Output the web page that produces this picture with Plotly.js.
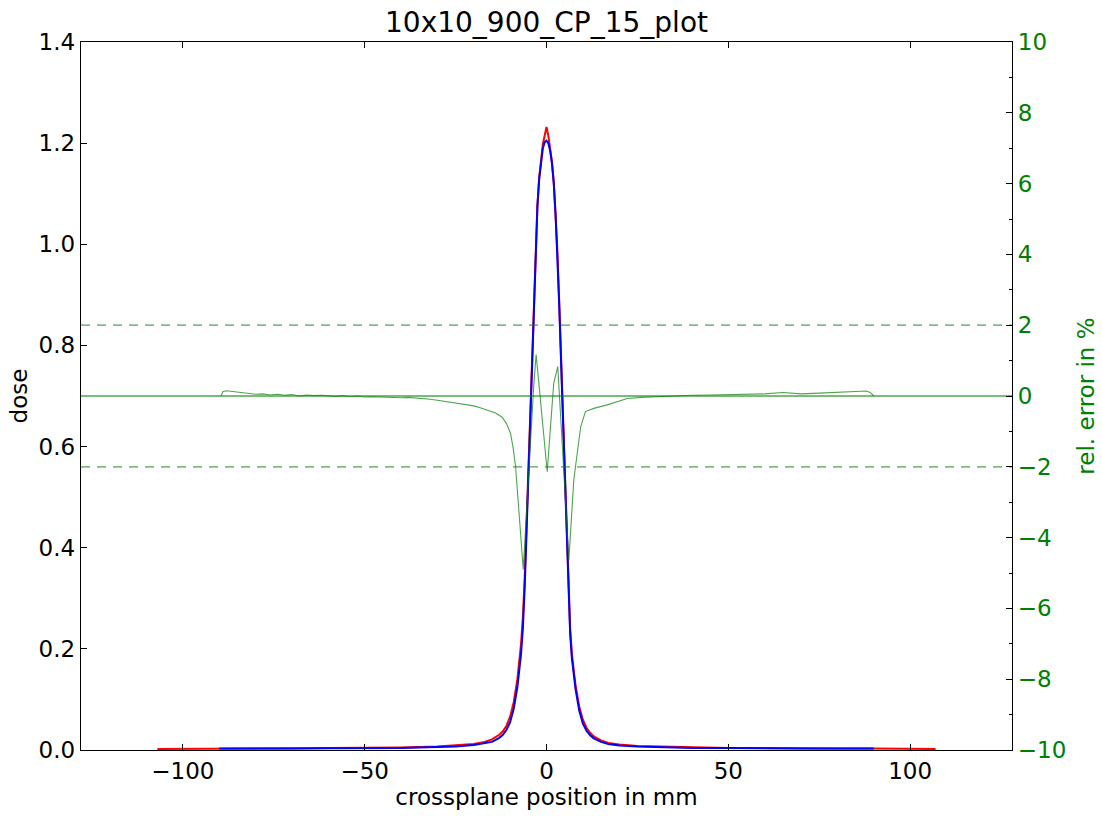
<!DOCTYPE html>
<html>
<head>
<meta charset="utf-8">
<script src="https://cdn.plot.ly/plotly-3.0.1.min.js"></script>
<style>html,body{margin:0;padding:0;background:#fff;}#chart{width:1102px;height:816px;}</style>
</head>
<body>
<div id="chart"></div>
<script>
// Dose profile (red)
const redX = [-107,-100,-90,-80,-70,-60,-50,-40,-30,-25,-20,-17,-15,-13,-12,-11,-10,-9,-8,-7,-6.5,-6,-5.5,-5,-4.5,-4,-3.5,-3,-2.5,-2,-1.5,-1,-0.5,0,0.5,1,1.5,2,2.5,3,3.5,4,4.5,5,5.5,6,6.5,7,8,9,10,11,12,13,15,17,20,25,30,40,50,60,70,80,90,100,107];
const redY = [0.002,0.002,0.003,0.003,0.003,0.004,0.004,0.005,0.007,0.009,0.012,0.016,0.021,0.030,0.037,0.048,0.066,0.095,0.14,0.21,0.262,0.34,0.445,0.562,0.68,0.795,0.902,1.0,1.077,1.133,1.17,1.198,1.215,1.232,1.215,1.19,1.163,1.123,1.063,0.985,0.885,0.775,0.66,0.542,0.428,0.32,0.24,0.188,0.127,0.086,0.06,0.044,0.034,0.027,0.019,0.014,0.011,0.008,0.007,0.005,0.004,0.004,0.003,0.003,0.003,0.002,0.002];

// Dose profile (blue)
const blueX = [-90,-80,-70,-60,-50,-40,-30,-25,-20,-17,-15,-13,-12,-11,-10,-9,-8,-7,-6.5,-6,-5.5,-5,-4.5,-4,-3.5,-3,-2.5,-2,-1.5,-1,-0.5,0,0.5,1,1.5,2,2.5,3,3.5,4,4.5,5,5.5,6,6.5,7,8,9,10,11,12,13,15,17,20,25,30,40,50,60,70,80,90];
const blueY = [0.003,0.003,0.003,0.003,0.004,0.004,0.006,0.007,0.010,0.013,0.016,0.024,0.030,0.040,0.055,0.082,0.125,0.19,0.24,0.32,0.43,0.55,0.67,0.79,0.90,1.0,1.075,1.13,1.165,1.19,1.202,1.205,1.2,1.185,1.16,1.12,1.06,0.98,0.88,0.77,0.655,0.535,0.42,0.31,0.23,0.18,0.12,0.078,0.052,0.038,0.029,0.023,0.016,0.012,0.009,0.007,0.006,0.004,0.004,0.003,0.003,0.003,0.003];

// Relative error in % (green)
const errX = [-89.5,-89,-88,-86,-84,-82,-80,-78,-76,-74,-72,-70,-68,-66,-64,-62,-60,-58,-56,-54,-52,-50,-48,-46,-44,-42,-40,-38,-36,-34,-32,-30,-28,-26,-24,-22,-20,-18,-16,-14,-12.2,-11,-9.9,-9.2,-8.5,-7.6,-6.9,-6.4,-5.5,-4.5,-3.5,-2.85,-1.5,-0.5,0.2,1,2,3.1,4,5,6.15,7.5,8.5,9.4,10.7,13,16.7,19.5,22.2,26,30,35,40,45,50,55,60,65,70,75,80,85,88,89,90];
const errY = [0,0.12,0.15,0.13,0.1,0.08,0.05,0.06,0.03,0.05,0.02,0.04,0.0,0.03,0.01,0.02,0.0,-0.01,0.01,-0.02,0.0,-0.03,-0.02,-0.03,-0.04,-0.03,-0.05,-0.04,-0.05,-0.07,-0.09,-0.12,-0.15,-0.18,-0.2,-0.24,-0.28,-0.34,-0.4,-0.48,-0.6,-0.78,-1.05,-1.45,-2.0,-3.1,-4.2,-4.9,-3.2,-1.4,0.3,1.17,-0.3,-1.4,-2.14,-1.0,0.37,0.83,-0.8,-2.4,-4.63,-2.37,-1.5,-0.87,-0.44,-0.35,-0.25,-0.16,-0.07,-0.04,-0.02,0.0,0.02,0.03,0.04,0.05,0.06,0.1,0.06,0.08,0.1,0.12,0.14,0.1,0];

// Reference lines (rel. error %)
const refLevels = [2, 0, -2];
const xLimits = [-128, 128];

const xTicks = [-100, -50, 0, 50, 100];
const yTicks = [0, 0.2, 0.4, 0.6, 0.8, 1.0, 1.2, 1.4];
const y2Ticks = [-10, -8, -6, -4, -2, 0, 2, 4, 6, 8, 10];

const green = '#008000';
const font = 'DejaVu Sans, sans-serif';
const fs = 23;

const traces = [];
refLevels.forEach(v => {
  traces.push({
    x: xLimits, y: [v, v], yaxis: 'y2', mode: 'lines', hoverinfo: 'skip',
    line: {color: 'rgba(0,128,0,0.7)', width: 1.3, dash: v === 0 ? 'solid' : '9px,7px'}
  });
});
traces.push({x: errX, y: errY, yaxis: 'y2', mode: 'lines',
  line: {color: 'rgba(0,128,0,0.7)', width: 1.1}});
traces.push({x: redX, y: redY, mode: 'lines', line: {color: '#ff0000', width: 2}});
traces.push({x: blueX, y: blueY, mode: 'lines', line: {color: '#0000ff', width: 2}});

const layout = {
  width: 1102, height: 816,
  margin: {l: 81, r: 90, t: 42, b: 66},
  paper_bgcolor: '#fff', plot_bgcolor: '#fff',
  showlegend: false,
  font: {family: font, size: fs, color: '#000'},
  title: {text: '10x10_900_CP_15_plot', font: {family: font, size: 28, color: '#000'},
          x: 0.5, xref: 'paper', xanchor: 'center', y: 0.973, yanchor: 'middle', yref: 'container'},
  xaxis: {
    range: xLimits, tickvals: xTicks, ticks: 'inside', ticklen: 6, tickwidth: 1, tickcolor: '#000',
    showline: true, linecolor: '#000', linewidth: 1.2, mirror: 'ticks', showgrid: false, zeroline: false,
    tickfont: {family: font, size: fs, color: '#000'},
    title: {text: 'crossplane position in mm', font: {family: font, size: fs, color: '#000'}, standoff: 6}
  },
  yaxis: {
    range: [0, 1.4], tickvals: yTicks, tickformat: '.1f', ticks: 'inside', ticklen: 6, tickwidth: 1, tickcolor: '#000',
    showline: true, linecolor: '#000', linewidth: 1.2, showgrid: false, zeroline: false,
    tickfont: {family: font, size: fs, color: '#000'},
    title: {text: 'dose', font: {family: font, size: fs, color: '#000'}, standoff: 4}
  },
  yaxis2: {
    range: [-10, 10], tickvals: y2Ticks, overlaying: 'y', side: 'right', anchor: 'x',
    ticks: 'inside', ticklen: 6, tickwidth: 1, tickcolor: '#000',
    minor: {dtick: 1, ticks: 'inside', ticklen: 3, tickcolor: '#000'},
    showline: true, linecolor: '#000', linewidth: 1.2, showgrid: false, zeroline: false,
    tickfont: {family: font, size: fs, color: green},
    title: {text: 'rel. error in %', font: {family: font, size: fs, color: green}, standoff: 12}
  }
};

Plotly.newPlot('chart', traces, layout, {displayModeBar: false, staticPlot: true});
</script>
</body>
</html>
